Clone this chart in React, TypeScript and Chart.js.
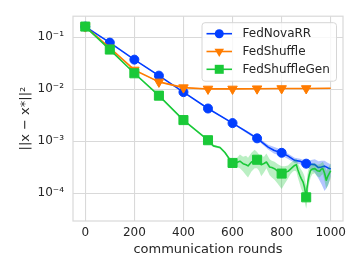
import React, { useEffect, useRef } from 'react';
import { Chart, registerables } from 'chart.js';

Chart.register(...registerables);

// ---------- data ----------
const seriesNames = ['FedNovaRR', 'FedShuffle', 'FedShuffleGen'];
const xTicks = [0, 200, 400, 600, 800, 1000];
const yTicks = [1e-4, 1e-3, 1e-2, 1e-1];
const yTickLabels = ['10⁻⁴', '10⁻³', '10⁻²', '10⁻¹'];
const xTitle = 'communication rounds';
const yTitle = '||x − x*||²';

const novaRounds = [0, 100, 200, 300, 400, 500, 600, 650, 700, 745, 770, 800, 825, 853, 875, 900, 915, 935, 950, 962, 975, 989, 1000];
const novaMean = [0.16, 0.0786, 0.037, 0.0182, 0.00877, 0.00424, 0.00222, 0.00159, 0.00113, 0.000766, 0.00066, 0.000596, 0.00052, 0.000426, 0.00041, 0.000368, 0.00036, 0.000352, 0.00031, 0.000318, 0.00033, 0.000305, 0.00029];
const novaLow = [0.157, 0.077, 0.0362, 0.0178, 0.0086, 0.00414, 0.00215, 0.0015, 0.00106, 0.00069, 0.00057, 0.00052, 0.00046, 0.00038, 0.00036, 0.00032, 0.00029, 0.00025, 0.00019, 0.00015, 0.00011, 0.00014, 0.00021];
const novaHigh = [0.163, 0.08, 0.0378, 0.0186, 0.009, 0.00434, 0.00229, 0.00168, 0.00121, 0.00085, 0.00077, 0.00068, 0.00058, 0.00048, 0.00046, 0.00042, 0.00043, 0.00045, 0.00041, 0.00042, 0.00042, 0.00038, 0.00036];

const shuffleRounds = [0, 100, 200, 300, 400, 500, 600, 700, 800, 900, 1000];
const shuffleMean = [0.16, 0.062, 0.0234, 0.0138, 0.0107, 0.0101, 0.0101, 0.0102, 0.0103, 0.0103, 0.0104];
const shuffleLow = [0.157, 0.0605, 0.0228, 0.0134, 0.0104, 0.0099, 0.0099, 0.01, 0.0101, 0.0101, 0.0102];
const shuffleHigh = [0.163, 0.0635, 0.024, 0.0142, 0.011, 0.0103, 0.0103, 0.0104, 0.0105, 0.0105, 0.0106];

const genRounds = [0, 100, 200, 300, 400, 500, 522, 549, 569, 590, 600, 610, 622, 630, 643, 655, 663, 677, 690, 700, 708, 717, 728, 738, 751, 760, 771, 785, 800, 812, 826, 836, 846, 853, 860, 866, 874, 880, 887, 893, 900, 903, 907, 912, 918, 925, 935, 945, 955, 962, 968, 975, 982, 988, 1000];
const genMean = [0.16, 0.0578, 0.0202, 0.0075, 0.00254, 0.00104, 0.00081, 0.000752, 0.000604, 0.000433, 0.00038, 0.00037, 0.000396, 0.00041, 0.000368, 0.00035, 0.000333, 0.000396, 0.00042, 0.000438, 0.0004, 0.000352, 0.00037, 0.000396, 0.000318, 0.00031, 0.000295, 0.00026, 0.000237, 0.00025, 0.000262, 0.00029, 0.000318, 0.00034, 0.000352, 0.00028, 0.00022, 0.00019, 0.000165, 0.00013, 0.0000828, 0.00012, 0.000165, 0.00022, 0.000274, 0.00029, 0.000295, 0.00027, 0.000262, 0.00029, 0.000295, 0.00024, 0.000177, 0.00021, 0.00027];
const genLow = [0.157, 0.056, 0.0196, 0.0072, 0.00245, 0.001, 0.00077, 0.00071, 0.00057, 0.00041, 0.00035, 0.00032, 0.00031, 0.0003, 0.00026, 0.00022, 0.0002, 0.00026, 0.0003, 0.0003, 0.00027, 0.00021, 0.00025, 0.0003, 0.00022, 0.0002, 0.00018, 0.00015, 0.00012, 0.00015, 0.00019, 0.00023, 0.00026, 0.00027, 0.00026, 0.0002, 0.00015, 0.00012, 0.0001, 0.00007, 0.00005, 0.00006, 0.0001, 0.00015, 0.0002, 0.00023, 0.00024, 0.00021, 0.0002, 0.00022, 0.00023, 0.00017, 0.00012, 0.00014, 0.00019];
const genHigh = [0.163, 0.06, 0.0208, 0.0078, 0.00262, 0.00108, 0.00085, 0.00079, 0.00064, 0.00046, 0.00041, 0.00043, 0.0005, 0.00055, 0.0005, 0.00052, 0.00048, 0.0006, 0.00068, 0.00062, 0.00055, 0.00052, 0.0005, 0.00058, 0.00045, 0.00042, 0.0004, 0.00036, 0.00033, 0.00033, 0.00034, 0.00038, 0.00041, 0.00044, 0.00046, 0.00038, 0.00031, 0.00028, 0.00025, 0.00021, 0.00014, 0.00019, 0.00026, 0.00032, 0.00035, 0.00037, 0.00038, 0.00035, 0.00036, 0.00038, 0.0004, 0.00034, 0.00027, 0.0003, 0.00037];

// ---------- styles ----------
const colors = ['#023eff', '#ff7c00', '#1ac938'];
const bandColors = ['rgba(2,62,255,0.3)', 'rgba(255,124,0,0.3)', 'rgba(26,201,56,0.3)'];
const markerStyles = ['circle', 'triangle', 'rect'];
const markerRotation = [0, 180, 0];
const markerRadius = [4.5, 5.5, 6.4];
const FONT = "'DejaVu Sans', sans-serif";
const TEXT = '#262626';
const GRID = '#d9d9d9';

const toPts = (xs: number[], ys: number[]) => xs.map((x, i) => ({ x, y: ys[i] }));

const frameAndLegend = {
  id: 'frameAndLegend',
  beforeDatasetsDraw(chart: any) {
    const { ctx, chartArea: a } = chart;
    ctx.save();
    ctx.strokeStyle = GRID;
    ctx.lineWidth = 1.2;
    ctx.strokeRect(a.left, a.top, a.right - a.left, a.bottom - a.top);
    ctx.restore();
  },
  afterDraw(chart: any) {
    const { ctx, chartArea: a } = chart;
    const x0 = a.right - 141;
    const y0 = a.top + 6.5;
    const w = 134.5;
    const h = 58.5;
    const r = 3;
    ctx.save();
    ctx.beginPath();
    ctx.moveTo(x0 + r, y0);
    ctx.lineTo(x0 + w - r, y0);
    ctx.quadraticCurveTo(x0 + w, y0, x0 + w, y0 + r);
    ctx.lineTo(x0 + w, y0 + h - r);
    ctx.quadraticCurveTo(x0 + w, y0 + h, x0 + w - r, y0 + h);
    ctx.lineTo(x0 + r, y0 + h);
    ctx.quadraticCurveTo(x0, y0 + h, x0, y0 + h - r);
    ctx.lineTo(x0, y0 + r);
    ctx.quadraticCurveTo(x0, y0, x0 + r, y0);
    ctx.closePath();
    ctx.fillStyle = 'rgba(255,255,255,0.8)';
    ctx.fill();
    ctx.strokeStyle = '#d6d6d6';
    ctx.lineWidth = 1;
    ctx.stroke();

    seriesNames.forEach((name, i) => {
      const cy = y0 + 11 + i * 17.8;
      const lx0 = x0 + 4.5;
      const lx1 = x0 + 30;
      const mx = (lx0 + lx1) / 2;
      ctx.strokeStyle = colors[i];
      ctx.fillStyle = colors[i];
      ctx.lineWidth = 1.6;
      ctx.beginPath();
      ctx.moveTo(lx0, cy);
      ctx.lineTo(lx1, cy);
      ctx.stroke();
      ctx.beginPath();
      if (i === 0) {
        ctx.arc(mx, cy, 4.5, 0, Math.PI * 2);
      } else if (i === 1) {
        const s = 5.5;
        ctx.moveTo(mx, cy + s);
        ctx.lineTo(mx - s * 0.866, cy - s * 0.5);
        ctx.lineTo(mx + s * 0.866, cy - s * 0.5);
        ctx.closePath();
      } else {
        ctx.rect(mx - 4.5, cy - 4.5, 9, 9);
      }
      ctx.fill();
      ctx.fillStyle = TEXT;
      ctx.font = `12px ${FONT}`;
      ctx.textAlign = 'left';
      ctx.textBaseline = 'middle';
      ctx.fillText(name, x0 + 40.5, cy + 0.5);
    });
    ctx.restore();
  },
};

export default function App() {
  const ref = useRef<HTMLCanvasElement | null>(null);

  useEffect(() => {
    if (!ref.current) return;
    const groups = [
      [novaRounds, novaMean, novaLow, novaHigh],
      [shuffleRounds, shuffleMean, shuffleLow, shuffleHigh],
      [genRounds, genMean, genLow, genHigh],
    ];
    const datasets: any[] = [];
    groups.forEach(([rs, mean, lo, hi], i) => {
      datasets.push({
        label: seriesNames[i] + ' low',
        data: toPts(rs, lo),
        borderWidth: 0,
        pointRadius: 0,
        fill: false,
      });
      datasets.push({
        label: seriesNames[i] + ' high',
        data: toPts(rs, hi),
        borderWidth: 0,
        pointRadius: 0,
        backgroundColor: bandColors[i],
        fill: '-1',
      });
      datasets.push({
        label: seriesNames[i],
        data: toPts(rs, mean),
        borderColor: colors[i],
        backgroundColor: colors[i],
        borderWidth: 1.6,
        fill: false,
        tension: 0,
        pointStyle: markerStyles[i],
        rotation: markerRotation[i],
        pointRadius: (c: any) => {
          const p = c.raw;
          return p && p.x % 100 === 0 && p.x < 1000 ? markerRadius[i] : 0;
        },
        pointBorderWidth: 1,
        pointBorderColor: colors[i],
        pointBackgroundColor: colors[i],
      });
    });
    datasets.forEach((d, idx) => {
      d.order = 100 - idx;
    });

    const chart = new Chart(ref.current, {
      type: 'line',
      data: { datasets },
      options: {
        animation: false,
        responsive: false,
        devicePixelRatio: 1,
        layout: { padding: { top: 14, right: 17, left: 0, bottom: 0 } },
        plugins: { legend: { display: false }, tooltip: { enabled: false } },
        elements: { line: { borderJoinStyle: 'round' } },
        scales: {
          x: {
            type: 'linear',
            min: -50,
            max: 1050,
            afterBuildTicks: (s: any) => {
              s.ticks = xTicks.map((v) => ({ value: v }));
            },
            afterFit: (s: any) => {
              s.height = 49;
            },
            ticks: {
              autoSkip: false,
              maxRotation: 0,
              padding: 5,
              color: TEXT,
              font: { family: FONT, size: 12 },
              callback: (v: any) => String(v),
            },
            grid: { color: GRID, lineWidth: 1.1, drawTicks: false },
            border: { display: false },
            title: {
              display: true,
              text: xTitle,
              color: TEXT,
              font: { family: FONT, size: 13 },
              padding: { top: 0, bottom: 13 },
            },
          },
          y: {
            type: 'logarithmic',
            min: 2.9e-5,
            max: 0.2535,
            afterBuildTicks: (s: any) => {
              s.ticks = yTicks.map((v) => ({ value: v }));
            },
            afterFit: (s: any) => {
              s.width = 73;
            },
            ticks: {
              autoSkip: false,
              padding: 9,
              color: TEXT,
              font: { family: FONT, size: 12 },
              callback: (v: any) => {
                const k = yTicks.findIndex((t) => Math.abs(Math.log10(t) - Math.log10(v)) < 1e-6);
                return k >= 0 ? yTickLabels[k] : '';
              },
            },
            grid: { color: GRID, lineWidth: 1.1, drawTicks: false },
            border: { display: false },
            title: {
              display: true,
              text: yTitle,
              color: TEXT,
              font: { family: FONT, size: 13 },
              padding: { top: 18, bottom: 0 },
            },
          },
        },
      },
      plugins: [frameAndLegend],
    } as any);
    return () => chart.destroy();
  }, []);

  return (
    <div style={{ position: 'absolute', left: 0, top: 0, width: 360, height: 270, background: '#fff' }}>
      <canvas ref={ref} width={360} height={270} style={{ display: 'block', width: 360, height: 270 }} />
    </div>
  );
}
